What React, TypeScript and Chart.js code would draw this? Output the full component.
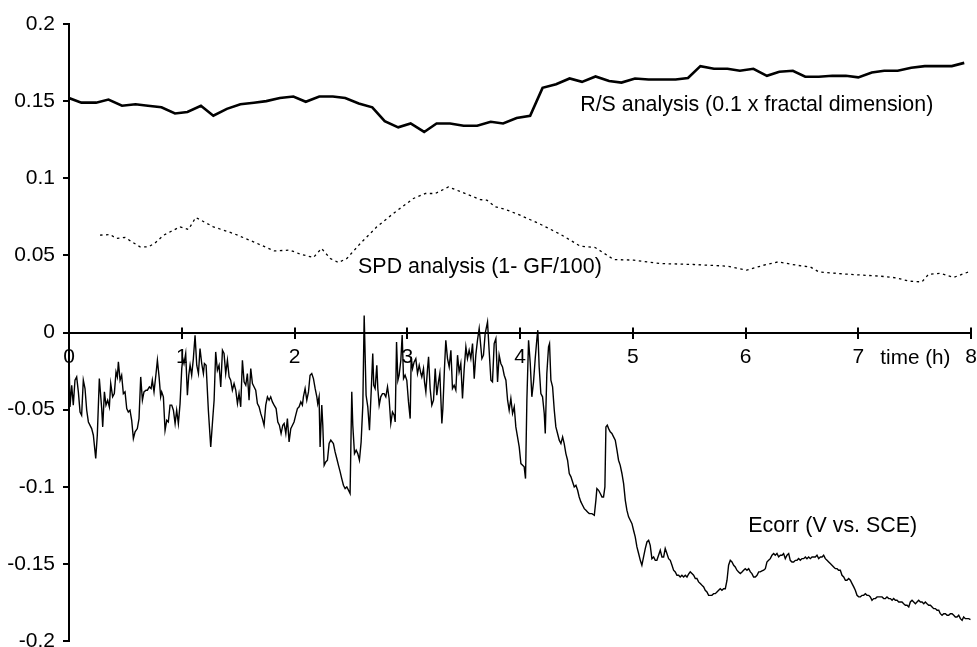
import React, { useEffect, useRef } from 'react';
import { Chart, registerables } from 'chart.js';

Chart.register(...registerables);

const FONT = "'Liberation Sans', Arial, Helvetica, sans-serif";

// x axis: time (h)
const timeMin = 0;
const timeMax = 8;
const timeStep = 1;
// y axis
const valueMin = -0.2;
const valueMax = 0.2;
const valueStep = 0.05;

const seriesLabels = [
  'R/S analysis (0.1 x fractal dimension)',
  'SPD analysis (1- GF/100)',
  'Ecorr (V vs. SCE)',
];
const axisTitle = 'time (h)';

// R/S analysis (0.1 x fractal dimension)
const rsTime = [
  0, 0.11, 0.24, 0.35, 0.47, 0.59, 0.7, 0.82, 0.94,
  1.05, 1.17, 1.28, 1.4, 1.52, 1.64, 1.75, 1.87, 1.99,
  2.1, 2.22, 2.34, 2.45, 2.57, 2.69, 2.8, 2.92,
  3.03, 3.15, 3.26, 3.38, 3.5, 3.62, 3.74, 3.85, 3.97,
  4.09, 4.2, 4.32, 4.44, 4.55, 4.67, 4.79, 4.9,
  5.02, 5.14, 5.26, 5.38, 5.49, 5.6, 5.72, 5.84, 5.95,
  6.07, 6.19, 6.3, 6.42, 6.53, 6.65, 6.77, 6.89,
  7.0, 7.12, 7.23, 7.35, 7.47, 7.59, 7.71, 7.83, 7.94,
];
const rsValue = [
  0.152, 0.149, 0.149, 0.151, 0.147, 0.148, 0.147, 0.146, 0.142,
  0.143, 0.147, 0.1405, 0.145, 0.148, 0.149, 0.15, 0.152, 0.153,
  0.1496, 0.153, 0.153, 0.152, 0.1485, 0.146, 0.137, 0.133,
  0.1355, 0.13, 0.1355, 0.1355, 0.134, 0.134, 0.1366, 0.1355, 0.139,
  0.1405, 0.1586, 0.161, 0.1647, 0.1625, 0.166, 0.163, 0.162,
  0.1647, 0.164, 0.164, 0.164, 0.165, 0.1727, 0.171, 0.171, 0.1697,
  0.171, 0.1664, 0.169, 0.1697, 0.1658, 0.1658, 0.1664, 0.1664,
  0.1654, 0.1686, 0.1697, 0.1697, 0.1716, 0.1727, 0.1727, 0.1727, 0.1748,
];

// SPD analysis (1- GF/100)
const spdTime = [
  0.275, 0.364, 0.42, 0.497, 0.63, 0.704, 0.763, 0.837, 0.985, 1.06, 1.124,
  1.28, 1.458, 1.636, 1.82, 1.96, 2.05, 2.167, 2.24, 2.316, 2.39, 2.465,
  2.583, 2.73, 2.877, 3.055, 3.16, 3.248, 3.366, 3.5, 3.647, 3.706, 3.78,
  3.87, 4.0, 4.18, 4.36, 4.534, 4.667, 4.785, 4.83, 5.01, 5.244, 5.54,
  5.836, 6.01, 6.16, 6.29, 6.455, 6.575, 6.65, 6.9, 7.2, 7.34, 7.447,
  7.565, 7.624, 7.727, 7.845, 7.98,
];
const spdValue = [
  0.0631, 0.0635, 0.061, 0.0616, 0.0555, 0.0555, 0.058, 0.063, 0.0685, 0.0668, 0.0746,
  0.0685, 0.0642, 0.0588, 0.0529, 0.0534, 0.0508, 0.0486, 0.0545, 0.048, 0.0454, 0.048,
  0.0577, 0.0685, 0.0772, 0.0869, 0.0901, 0.0901, 0.0944, 0.0905, 0.0862, 0.0858, 0.0815,
  0.0798, 0.0761, 0.0702, 0.0636, 0.056, 0.0551, 0.0495, 0.0473, 0.0469, 0.0447, 0.0441,
  0.043, 0.0404, 0.0436, 0.0458, 0.0436, 0.0425, 0.0393, 0.0378, 0.0365, 0.0354, 0.0333,
  0.0328, 0.0378, 0.0383, 0.0357, 0.0393,
];

// Ecorr (V vs. SCE): [time (h), potential (V)]
const ecorrPoints: [number, number][] = [
  [0.003,-0.0266],[0.009,-0.0482],[0.024,-0.0342],[0.038,-0.0471],[0.053,-0.0309],[0.068,-0.0288],[0.083,-0.0385],[0.098,-0.0515],[0.112,-0.0536],[0.127,-0.0309],[0.142,-0.0363],[0.157,-0.0504],[0.172,-0.058],[0.201,-0.0623],[0.216,-0.0666],[0.237,-0.0817],[0.251,-0.0666],[0.269,-0.0299],[0.29,-0.0493],[0.299,-0.0612],[0.314,-0.0385],[0.328,-0.0471],[0.343,-0.0439],[0.358,-0.0482],[0.37,-0.0331],[0.387,-0.0417],[0.402,-0.0396],[0.417,-0.0255],[0.429,-0.0288],[0.438,-0.019],[0.453,-0.0309],[0.467,-0.0277],[0.482,-0.0396],[0.497,-0.0385],[0.512,-0.0493],[0.526,-0.0515],[0.541,-0.0504],[0.556,-0.0569],[0.571,-0.0688],[0.586,-0.0644],[0.606,-0.0623],[0.621,-0.0558],[0.636,-0.0288],[0.651,-0.0439],[0.665,-0.0385],[0.683,-0.0374],[0.695,-0.0374],[0.713,-0.0353],[0.728,-0.0363],[0.739,-0.0309],[0.754,-0.0385],[0.772,-0.0266],[0.784,-0.018],[0.799,-0.0288],[0.813,-0.0417],[0.822,-0.0385],[0.837,-0.0417],[0.852,-0.0634],[0.867,-0.0569],[0.881,-0.058],[0.896,-0.0471],[0.911,-0.0471],[0.926,-0.0504],[0.941,-0.059],[0.955,-0.0504],[0.97,-0.059],[0.985,-0.0461],
  [1.0,-0.0234],[1.009,-0.0169],[1.02,-0.0201],[1.035,-0.0136],[1.05,-0.0407],[1.062,-0.0277],[1.074,-0.0212],[1.088,-0.0277],[1.103,-0.0169],[1.118,-0.0018],[1.133,-0.0212],[1.148,-0.0266],[1.162,-0.0104],[1.177,-0.0201],[1.192,-0.0266],[1.201,-0.0201],[1.216,-0.0212],[1.236,-0.0504],[1.257,-0.0742],[1.275,-0.0558],[1.287,-0.0439],[1.301,-0.0126],[1.316,-0.0245],[1.331,-0.0212],[1.346,-0.0353],[1.361,-0.0115],[1.375,-0.0136],[1.39,-0.0266],[1.405,-0.018],[1.42,-0.0288],[1.434,-0.0309],[1.449,-0.0374],[1.464,-0.0331],[1.479,-0.0374],[1.494,-0.0461],[1.508,-0.0396],[1.523,-0.0482],[1.538,-0.018],[1.553,-0.032],[1.568,-0.0342],[1.582,-0.0266],[1.597,-0.0439],[1.612,-0.0234],[1.627,-0.0331],[1.642,-0.0353],[1.656,-0.0374],[1.671,-0.0461],[1.686,-0.0482],[1.701,-0.0526],[1.715,-0.0558],[1.73,-0.0601],[1.745,-0.0471],[1.76,-0.0417],[1.775,-0.0439],[1.789,-0.0417],[1.804,-0.045],[1.819,-0.0471],[1.837,-0.0493],[1.852,-0.058],[1.866,-0.0601],[1.881,-0.0655],[1.896,-0.0601],[1.908,-0.059],[1.923,-0.0655],[1.937,-0.0558],[1.952,-0.0709],[1.967,-0.0623],[1.982,-0.0601],[1.996,-0.058],
  [2.011,-0.0536],[2.026,-0.0493],[2.041,-0.0482],[2.056,-0.045],[2.07,-0.0471],[2.079,-0.0417],[2.094,-0.0363],[2.109,-0.0439],[2.124,-0.0385],[2.138,-0.0277],[2.153,-0.0266],[2.168,-0.0299],[2.183,-0.0363],[2.198,-0.0417],[2.206,-0.0461],[2.218,-0.0417],[2.227,-0.0742],[2.242,-0.0471],[2.251,-0.0601],[2.263,-0.0861],[2.277,-0.0839],[2.292,-0.0828],[2.307,-0.072],[2.322,-0.0698],[2.345,-0.072],[2.36,-0.0774],[2.375,-0.0817],[2.39,-0.0861],[2.405,-0.0904],[2.419,-0.0947],[2.434,-0.099],[2.449,-0.1012],[2.464,-0.1001],[2.479,-0.1023],[2.493,-0.1044],[2.508,-0.0385],[2.517,-0.0601],[2.532,-0.0785],[2.547,-0.0763],[2.561,-0.0785],[2.576,-0.0828],[2.591,-0.0709],[2.606,-0.0471],[2.618,0.011],[2.635,-0.0407],[2.65,-0.0482],[2.665,-0.0634],[2.68,-0.0385],[2.694,-0.0137],[2.703,-0.0342],[2.715,-0.0363],[2.73,-0.0212],[2.739,-0.0363],[2.751,-0.0471],[2.765,-0.0417],[2.78,-0.0396],[2.795,-0.0396],[2.81,-0.0417],[2.825,-0.0353],[2.839,-0.0428],[2.854,-0.059],[2.869,-0.0515],[2.884,-0.0536],[2.893,-0.058],[2.905,-0.0061],[2.917,-0.031],[2.928,-0.0277],[2.943,-0.018],[2.955,-0.0017],[2.967,-0.0299],[2.981,-0.0277],[2.996,-0.031],
  [3.011,-0.045],[3.026,-0.0558],[3.035,-0.0158],[3.047,-0.0234],[3.061,-0.0191],[3.076,-0.0169],[3.091,-0.0266],[3.106,-0.0212],[3.121,-0.0266],[3.129,-0.0288],[3.144,-0.0234],[3.153,-0.032],[3.165,-0.0385],[3.18,-0.0234],[3.189,-0.0158],[3.203,-0.0363],[3.218,-0.0471],[3.233,-0.0439],[3.248,-0.0234],[3.262,-0.0407],[3.277,-0.032],[3.289,-0.0266],[3.307,-0.059],[3.316,-0.0493],[3.33,-0.0234],[3.342,-0.005],[3.357,-0.0169],[3.372,-0.0223],[3.387,-0.0115],[3.401,-0.0363],[3.416,-0.0342],[3.431,-0.0374],[3.446,-0.0147],[3.46,-0.0255],[3.475,-0.0201],[3.49,-0.0428],[3.505,-0.0234],[3.52,-0.0093],[3.534,-0.0169],[3.549,-0.0115],[3.564,-0.0169],[3.579,-0.0072],[3.594,-0.0299],[3.608,-0.0147],[3.623,-0.005],[3.638,0.0026],[3.662,-0.0169],[3.676,-0.0147],[3.691,-0.0007],[3.712,0.0069],[3.727,-0.0126],[3.742,-0.0309],[3.756,-0.032],[3.771,-0.0072],[3.786,-0.0039],[3.801,-0.032],[3.815,-0.0147],[3.83,-0.0201],[3.845,-0.0223],[3.86,-0.0277],[3.875,-0.0309],[3.89,-0.0439],[3.904,-0.0504],[3.919,-0.0428],[3.934,-0.0525],[3.949,-0.0482],[3.963,-0.0612],[3.978,-0.0677],[3.993,-0.0742],
  [4.008,-0.085],[4.023,-0.0861],[4.037,-0.0871],[4.049,-0.0947],[4.061,-0.0439],[4.076,-0.005],[4.091,-0.0201],[4.105,-0.0417],[4.12,-0.032],[4.135,-0.0169],[4.15,-0.0039],[4.158,0.0015],[4.17,-0.0223],[4.185,-0.0396],[4.2,-0.0417],[4.215,-0.0525],[4.224,-0.0655],[4.238,-0.0266],[4.253,-0.0093],[4.262,-0.0072],[4.274,-0.0309],[4.289,-0.0353],[4.304,-0.0504],[4.318,-0.0612],[4.333,-0.0655],[4.348,-0.0698],[4.363,-0.072],[4.378,-0.0677],[4.392,-0.072],[4.407,-0.0785],[4.422,-0.0828],[4.437,-0.0914],[4.452,-0.0936],[4.466,-0.0968],[4.481,-0.1001],[4.496,-0.099],[4.511,-0.1023],[4.525,-0.1066],[4.54,-0.1098],[4.555,-0.112],[4.57,-0.1142],[4.585,-0.1152],[4.599,-0.1163],[4.614,-0.1174],[4.638,-0.1174],[4.659,-0.1185],[4.673,-0.1088],[4.682,-0.1012],[4.697,-0.1023],[4.712,-0.1044],[4.727,-0.1066],[4.741,-0.1066],[4.753,-0.1001],[4.762,-0.0612],[4.774,-0.0601],[4.786,-0.0623],[4.8,-0.0644],[4.815,-0.0655],[4.83,-0.0677],[4.845,-0.0698],[4.86,-0.0763],[4.874,-0.0828],[4.889,-0.0861],[4.904,-0.0914],[4.919,-0.098],[4.934,-0.1088],[4.948,-0.1152],[4.963,-0.1195],[4.978,-0.1217],[4.993,-0.1239],
  [5.007,-0.1282],[5.022,-0.1325],[5.037,-0.139],[5.052,-0.1433],[5.067,-0.1477],[5.081,-0.1509],[5.096,-0.1455],[5.111,-0.1401],[5.126,-0.1358],[5.141,-0.1347],[5.155,-0.138],[5.17,-0.1466],[5.185,-0.1455],[5.2,-0.1477],[5.214,-0.1477],[5.229,-0.1444],[5.244,-0.1412],[5.259,-0.1455],[5.274,-0.1455],[5.288,-0.1401],[5.303,-0.1433],[5.318,-0.1466],[5.333,-0.1477],[5.348,-0.1509],[5.362,-0.1541],[5.377,-0.1552],[5.392,-0.1574],[5.407,-0.1574],[5.421,-0.1585],[5.436,-0.1574],[5.451,-0.1585],[5.466,-0.1574],[5.481,-0.1585],[5.495,-0.1567],[5.51,-0.1552],[5.525,-0.1563],[5.54,-0.1574],[5.555,-0.1595],[5.569,-0.1595],[5.584,-0.1617],[5.599,-0.1628],[5.614,-0.1639],[5.629,-0.1649],[5.643,-0.1671],[5.658,-0.1682],[5.673,-0.1704],[5.688,-0.1704],[5.702,-0.1704],[5.717,-0.1693],[5.732,-0.1693],[5.747,-0.1682],[5.762,-0.1671],[5.776,-0.1661],[5.791,-0.1671],[5.806,-0.1661],[5.821,-0.1661],[5.836,-0.1606],[5.85,-0.1509],[5.865,-0.1477],[5.88,-0.1488],[5.895,-0.1509],[5.909,-0.152],[5.924,-0.1541],[5.939,-0.1552],[5.954,-0.1563],[5.969,-0.1552],[5.983,-0.1541],[5.998,-0.1531],
  [6.013,-0.1541],[6.028,-0.1531],[6.043,-0.1552],[6.057,-0.1563],[6.072,-0.1585],[6.087,-0.1585],[6.102,-0.1574],[6.117,-0.1552],[6.131,-0.1552],[6.146,-0.1546],[6.161,-0.1541],[6.176,-0.1531],[6.19,-0.1488],[6.205,-0.1477],[6.22,-0.1466],[6.235,-0.1444],[6.25,-0.1433],[6.264,-0.1444],[6.279,-0.1433],[6.294,-0.1455],[6.309,-0.1444],[6.324,-0.1444],[6.338,-0.1433],[6.353,-0.1466],[6.368,-0.1444],[6.383,-0.1433],[6.397,-0.1477],[6.412,-0.1488],[6.427,-0.1488],[6.442,-0.1477],[6.457,-0.1477],[6.471,-0.1466],[6.486,-0.1477],[6.501,-0.1466],[6.516,-0.1466],[6.531,-0.1455],[6.545,-0.1466],[6.56,-0.1455],[6.575,-0.1466],[6.59,-0.1455],[6.605,-0.1455],[6.619,-0.1455],[6.634,-0.1444],[6.649,-0.1466],[6.664,-0.1455],[6.679,-0.1455],[6.693,-0.1444],[6.708,-0.1466],[6.723,-0.1477],[6.738,-0.1488],[6.752,-0.1498],[6.767,-0.1509],[6.782,-0.152],[6.797,-0.1531],[6.812,-0.1531],[6.826,-0.1541],[6.841,-0.1541],[6.856,-0.1574],[6.871,-0.1585],[6.886,-0.1606],[6.9,-0.1606],[6.915,-0.1595],[6.93,-0.1606],[6.945,-0.1628],[6.96,-0.1649],[6.974,-0.1671],[6.989,-0.1704],
  [7.004,-0.1714],[7.019,-0.1714],[7.034,-0.1704],[7.048,-0.1704],[7.063,-0.1693],[7.078,-0.1704],[7.093,-0.1704],[7.107,-0.1714],[7.122,-0.1736],[7.137,-0.1725],[7.152,-0.1725],[7.167,-0.1714],[7.181,-0.1714],[7.196,-0.1714],[7.211,-0.1714],[7.226,-0.1725],[7.241,-0.1725],[7.255,-0.1714],[7.27,-0.1725],[7.285,-0.1725],[7.3,-0.1736],[7.314,-0.1725],[7.329,-0.1736],[7.344,-0.1736],[7.359,-0.1747],[7.374,-0.1747],[7.388,-0.1747],[7.403,-0.1758],[7.418,-0.1768],[7.433,-0.1768],[7.448,-0.1779],[7.462,-0.1747],[7.477,-0.1736],[7.492,-0.1747],[7.507,-0.1758],[7.521,-0.1747],[7.536,-0.1736],[7.551,-0.1747],[7.566,-0.1747],[7.581,-0.1758],[7.595,-0.1747],[7.61,-0.1758],[7.625,-0.1768],[7.64,-0.1768],[7.655,-0.1779],[7.669,-0.179],[7.684,-0.179],[7.699,-0.1801],[7.714,-0.1801],[7.728,-0.1823],[7.743,-0.1833],[7.758,-0.1823],[7.773,-0.1823],[7.788,-0.1833],[7.802,-0.1833],[7.817,-0.1823],[7.832,-0.1823],[7.847,-0.1833],[7.861,-0.1844],[7.876,-0.1844],[7.891,-0.1833],[7.906,-0.1855],[7.921,-0.1866],[7.935,-0.1844],[7.95,-0.1855],[7.965,-0.1855],[7.98,-0.1855],[7.995,-0.1861],
];

// where each text label sits, in data coordinates (left edge, baseline)
const labelAnchors = [
  { t: 4.534, v: 0.1435 },
  { t: 2.564, v: 0.0383 },
  { t: 6.025, v: -0.1295 },
];
const axisTitleAnchor = { t: 7.196, v: -0.0206 };

const textPlugin = {
  id: 'chartText',
  afterDraw(chart: any) {
    const { ctx } = chart;
    const xs = chart.scales.x;
    const ys = chart.scales.y;
    ctx.save();
    // upper half of the crossing x tick marks
    const y0 = ys.getPixelForValue(0);
    ctx.strokeStyle = '#000';
    ctx.lineWidth = 2;
    xs.ticks.forEach((tk: any) => {
      const px = Math.round(xs.getPixelForValue(tk.value));
      ctx.beginPath();
      ctx.moveTo(px, y0);
      ctx.lineTo(px, y0 - 5);
      ctx.stroke();
    });
    ctx.fillStyle = '#000';
    ctx.textAlign = 'left';
    ctx.textBaseline = 'alphabetic';
    ctx.font = `21.4px ${FONT}`;
    seriesLabels.forEach((txt, i) => {
      const a = labelAnchors[i];
      ctx.fillText(txt, xs.getPixelForValue(a.t), ys.getPixelForValue(a.v));
    });
    ctx.font = `20.7px ${FONT}`;
    ctx.fillText(axisTitle, xs.getPixelForValue(axisTitleAnchor.t), ys.getPixelForValue(axisTitleAnchor.v));
    ctx.restore();
  },
};

export default function App() {
  const canvasRef = useRef<HTMLCanvasElement | null>(null);

  useEffect(() => {
    const canvas = canvasRef.current;
    if (!canvas) return;
    const chart = new Chart(canvas, {
      type: 'line',
      data: {
        datasets: [
          {
            label: seriesLabels[0],
            data: rsTime.map((t, i) => ({ x: t, y: rsValue[i] })),
            borderColor: '#000',
            borderWidth: 2.6,
            pointRadius: 0,
            fill: false,
          },
          {
            label: seriesLabels[1],
            data: spdTime.map((t, i) => ({ x: t, y: spdValue[i] })),
            borderColor: '#000',
            borderWidth: 1.3,
            borderDash: [2.5, 3.5],
            pointRadius: 0,
            fill: false,
          },
          {
            label: seriesLabels[2],
            data: ecorrPoints.map(([t, v]) => ({ x: t, y: v })),
            borderColor: '#000',
            borderWidth: 1.4,
            pointRadius: 0,
            fill: false,
          },
        ],
      },
      options: {
        responsive: false,
        animation: false,
        events: [],
        layout: { padding: { left: 0, top: 24, right: 6, bottom: 6 } },
        plugins: {
          legend: { display: false },
          tooltip: { enabled: false },
          title: { display: false },
        },
        elements: { line: { tension: 0 } },
        scales: {
          x: {
            type: 'linear',
            position: { y: 0 } as any,
            min: timeMin,
            max: timeMax,
            ticks: {
              stepSize: timeStep,
              padding: 7,
              color: '#000',
              maxRotation: 0,
              autoSkip: false,
              font: { size: 21, family: FONT },
            },
            grid: {
              drawOnChartArea: false,
              drawTicks: true,
              tickLength: 5,
              color: '#000',
              lineWidth: 2,
            },
            border: { display: true, color: '#000', width: 2 },
            afterFit: (s: any) => {
              s.paddingLeft = 0;
              s.paddingRight = 0;
              s.paddingTop = 0;
              s.paddingBottom = 0;
            },
          },
          y: {
            type: 'linear',
            position: 'left',
            min: valueMin,
            max: valueMax,
            ticks: {
              stepSize: valueStep,
              padding: 8,
              color: '#000',
              font: { size: 21, family: FONT },
              callback: (v: any) => String(Math.round(Number(v) * 100) / 100),
            },
            grid: {
              drawOnChartArea: false,
              drawTicks: true,
              tickLength: 6,
              color: '#000',
              lineWidth: 2,
            },
            border: { display: true, color: '#000', width: 2 },
            afterFit: (s: any) => {
              s.width = 69;
              s.paddingTop = 0;
              s.paddingBottom = 0;
            },
          },
        },
      },
      plugins: [textPlugin],
    } as any);
    return () => chart.destroy();
  }, []);

  return (
    <div style={{ position: 'absolute', left: 0, top: 0, width: 977, height: 647, background: '#fff' }}>
      <canvas ref={canvasRef} width={977} height={647} style={{ display: 'block', width: 977, height: 647 }} />
    </div>
  );
}
